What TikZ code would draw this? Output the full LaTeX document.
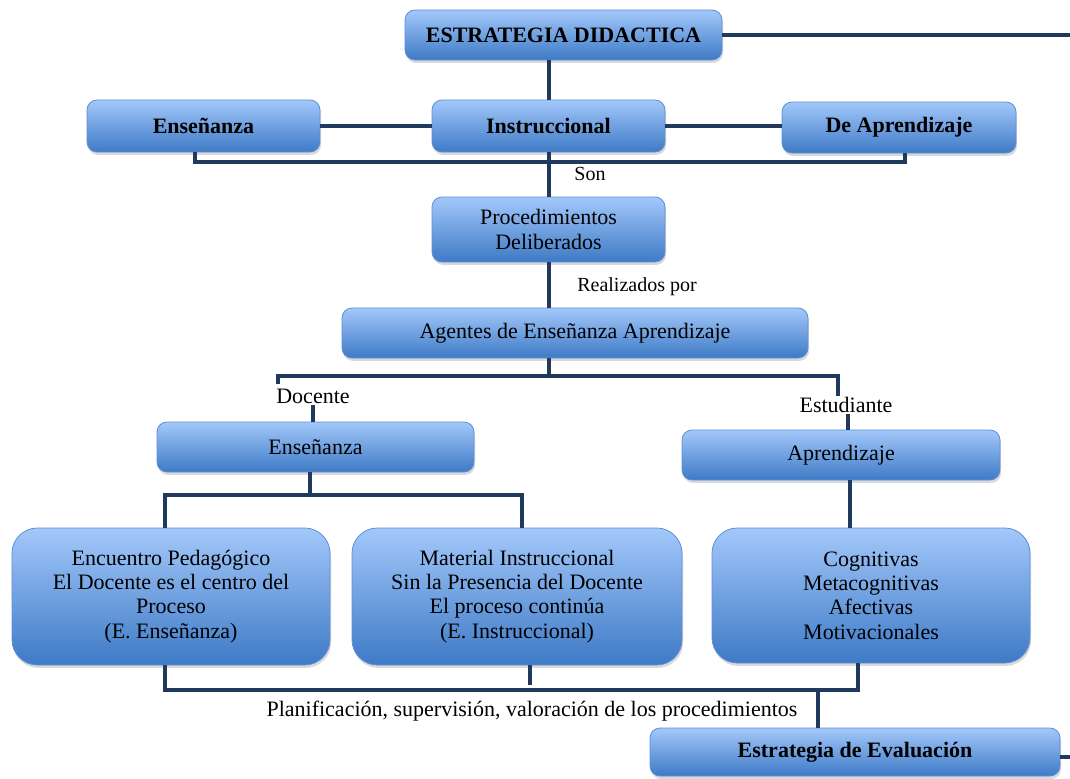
\documentclass[tikz,border=0pt]{standalone}
\usepackage{fontspec}
\setmainfont{Liberation Serif}
\usetikzlibrary{shadows,calc}
\definecolor{boxtop}{HTML}{A3C8FA}
\definecolor{boxbot}{HTML}{3E7AC6}
\definecolor{boxline}{HTML}{5D8FD6}
\definecolor{conncol}{HTML}{1F3A5C}
\begin{document}
\begin{tikzpicture}[x=0.75pt,y=-0.75pt,
  box/.style={rounded corners=7.5pt, draw=boxline, line width=0.6pt,
    top color=boxtop, bottom color=boxbot,
    drop shadow={shadow xshift=0.8pt, shadow yshift=-2.2pt, opacity=0.3},
    inner sep=0pt, align=center, text=black,
    font=\fontsize{16.5}{18.2}\selectfont},
  bigbox/.style={box, rounded corners=19pt},
  boldbox/.style={box, font=\fontsize{16.5}{18.2}\selectfont\bfseries},
  conn/.style={draw=conncol, line width=3pt},
  lbl/.style={font=\fontsize{16.5}{18}\selectfont, inner sep=1pt},
  slbl/.style={font=\fontsize{15}{18}\selectfont, inner sep=1pt}]
\useasboundingbox (0,0) rectangle (1070,778);

% boxes
\node[boldbox, minimum width=237.75pt, minimum height=37.5pt] (top) at (563.5,35) {ESTRATEGIA DIDACTICA};
\node[boldbox, minimum width=174.75pt, minimum height=39pt] (ens1) at (203.5,126) {Enseñanza};
\node[boldbox, minimum width=174.75pt, minimum height=39pt] (inst) at (548.5,126) {Instruccional};
\node[boldbox, minimum width=175.5pt, minimum height=38.25pt] (deap) at (899,127.5) {De Aprendizaje};
\node[box, minimum width=174.75pt, minimum height=48.75pt] (proc) at (548.5,229.5) {Procedimientos\\Deliberados};
\node[box, minimum width=349.5pt, minimum height=37.5pt] (agen) at (575,333) {Agentes de Enseñanza Aprendizaje};
\node[box, minimum width=237.75pt, minimum height=37.5pt] (ens2) at (315.5,447) {Enseñanza};
\node[box, minimum width=238.5pt, minimum height=37.5pt] (apre) at (841,455) {Aprendizaje};
\node[bigbox, minimum width=238.5pt, minimum height=102.75pt] (b1) at (171,596.5) {Encuentro Pedagógico\\El Docente es el centro del\\Proceso\\(E. Enseñanza)};
\node[bigbox, minimum width=247.5pt, minimum height=102.75pt] (b2) at (517,596.5) {Material Instruccional\\Sin la Presencia del Docente\\El proceso continúa\\(E. Instruccional)};
\node[bigbox, minimum width=238.5pt, minimum height=101.25pt] (b3) at (871,595.5) {Cognitivas\\Metacognitivas\\Afectivas\\Motivacionales};
\node[boldbox, minimum width=307.5pt, minimum height=36pt] (eval) at (855,752) {Estrategia de Evaluación};

% labels
\node[slbl] (son) at (590,174) {Son};
\node[slbl] (real) at (637,287) {Realizados por};
\node[lbl] (doc) at (313,396) {Docente};
\node[lbl] (est) at (846,405) {Estudiante};
\node[lbl] (plan) at (532,711) {Planificación, supervisión, valoración de los procedimientos};

% coordinates
\coordinate (topR) at (1072,35);
\coordinate (j1) at (548.5,376);
\coordinate (dl) at (278,384);
\coordinate (j2) at (310,495);
\coordinate (evalR) at (1072,757);

% connectors
\draw[conn] (top.east) -- (topR);
\draw[conn] (inst.north) -- (inst.north |- top.south);
\draw[conn] (ens1.east) -- (ens1.east -| inst.west);
\draw[conn] (inst.east) -- (inst.east -| deap.west);
\draw[conn] ([xshift=-6.4pt]ens1.south) -- ++(0,10) -| ([xshift=4.5pt]deap.south);
\draw[conn] (inst.south) -- (proc.north);
\draw[conn] (proc.south) -- (agen.north -| proc.south);
\draw[conn] (agen.south -| j1) -- (j1);
\draw[conn] (dl) |- (j1) -| ([xshift=-6pt]est.north);
\draw[conn] (doc.south) -- (doc.south |- ens2.north);
\draw[conn] ([xshift=1.5pt]est.south) -- ([xshift=1.5pt]est.south |- apre.north);
\draw[conn] (ens2.south -| j2) -- (j2);
\draw[conn] ([xshift=-4.5pt]b1.north) |- (j2) -| ([xshift=3.75pt]b2.north);
\draw[conn] ([xshift=6.75pt]apre.south) -- ([xshift=6.75pt]apre.south |- b3.north);
\draw[conn] ([xshift=-4.5pt]b1.south) -- ++(0,25) -| ([xshift=-9.75pt]b3.south);
\draw[conn] ([xshift=9.75pt]b2.south) -- ++(0,20);
\draw[conn] ([xshift=-27.75pt]eval.north) -- ++(0,-38);
\draw[conn] (eval.east |- evalR) -- (evalR);
\end{tikzpicture}
\end{document}
